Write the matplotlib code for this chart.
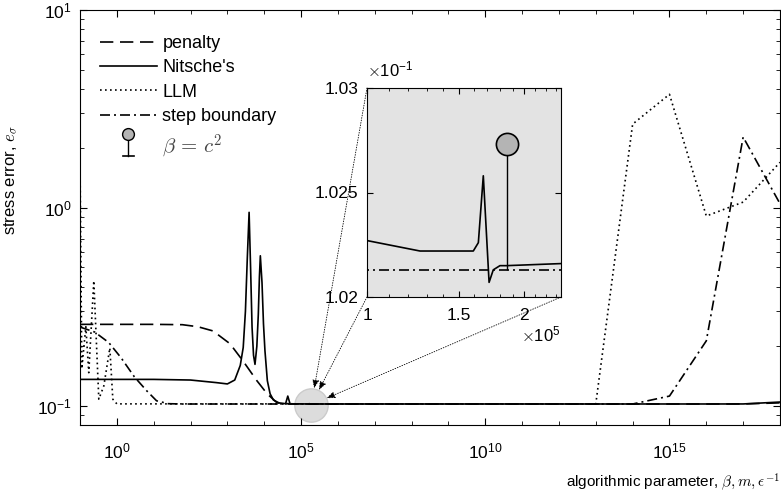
import matplotlib
matplotlib.use("Agg")
import matplotlib.pyplot as plt
from matplotlib.legend_handler import HandlerBase
from matplotlib.lines import Line2D
from matplotlib.ticker import FixedLocator, NullFormatter, FuncFormatter, LogLocator

plt.rcParams["font.family"] = ["Liberation Sans", "DejaVu Sans"]
plt.rcParams["mathtext.fontset"] = "cm"

# ====== DATA ======
pen_x = [0.1, 10, 60, 158, 407, 1175, 2630, 6310, 12020, 22390, 50120, 1e5, 1e16, 1e17, 1e18]
pen_y = [0.258, 0.258, 0.257, 0.251, 0.239, 0.206, 0.169, 0.134, 0.115, 0.1035, 0.1024, 0.10213,
         0.10213, 0.1022, 0.1035]

nit_x = [0.1, 10, 100, 501, 1000, 1585, 2239, 2692, 3090, 3467, 3890, 4266, 4677, 5129, 5623,
         6310, 6918, 7413, 7852, 8710, 9550, 10470, 12160, 14450, 17780, 25120, 38020, 43650,
         50120, 1e5, 1.263e5, 1.597e5, 1.633e5, 1.669e5, 1.712e5, 1.744e5, 1.796e5, 1.849e5,
         2.356e5, 1e10, 1e16, 1e17, 1e18]
nit_y = [0.136, 0.136, 0.135, 0.131, 0.129, 0.135, 0.16, 0.197, 0.3, 0.55, 0.95, 0.5, 0.25,
         0.18, 0.162, 0.2, 0.29, 0.45, 0.573, 0.42, 0.26, 0.19, 0.134, 0.115, 0.107, 0.1035,
         0.1025, 0.112, 0.1024, 0.10227, 0.10222, 0.10222, 0.10226, 0.10258, 0.10207, 0.10213,
         0.10215, 0.10215, 0.10216, 0.10216, 0.10216, 0.1022, 0.1045]

llm_x = [0.1, 0.112, 0.144, 0.173, 0.237, 0.324, 0.443, 0.645, 0.778, 1.0, 1e13, 1e14, 1e15,
         1e16, 1e17, 1e18]
llm_y = [1.73, 0.154, 0.251, 0.147, 0.428, 0.108, 0.126, 0.196, 0.108, 0.1023, 0.1023, 2.65,
         3.75, 0.91, 1.07, 1.7]

step_x = [0.1, 0.25, 0.6, 1.3, 3.0, 6.5, 12, 25, 60, 1e5, 1e13, 1e14, 1e15, 1e16, 1e17, 1e18]
step_y = [0.25, 0.236, 0.209, 0.175, 0.14, 0.119, 0.106, 0.1025, 0.10213, 0.10213, 0.10213,
          0.10213, 0.112, 0.213, 2.28, 1.05]

beta_c2 = [1.849e5]
beta_c2_err = [0.10273]
stem_bottom = 0.10213

zoom_x = [1.9e5]
zoom_y = [0.1012]

# line styles, MATLAB-like
sty_pen = dict(color="k", lw=1.2, dashes=(8, 4))
sty_nit = dict(color="k", lw=1.2, ls="-")
sty_llm = dict(color="k", lw=1.2, dashes=(1, 2))
sty_step = dict(color="k", lw=1.2, dashes=(6, 2.4, 1.2, 2.4))


class StemHandler(HandlerBase):
    def create_artists(self, legend, orig_handle, xdescent, ydescent, width, height, fontsize, trans):
        cx = width / 2 - xdescent
        cy = height / 2 - ydescent
        top, bot = cy + 9, cy - 7
        stem = Line2D([cx, cx], [bot, top], color="k", lw=1)
        base = Line2D([cx - 4, cx + 4], [bot, bot], color="k", lw=1.2)
        head = Line2D([cx], [top], marker="o", ms=8.5, mfc="#b4b4b4", mec="k", mew=1)
        for a in (stem, base, head):
            a.set_transform(trans)
        return [stem, base, head]


fig = plt.figure(figsize=(7.81, 5.0), dpi=100)
ax = fig.add_axes([80 / 781, 75 / 500, 700 / 781, 415 / 500])

l_pen, = ax.plot(pen_x, pen_y, label="penalty", **sty_pen)
l_nit, = ax.plot(nit_x, nit_y, label="Nitsche's", **sty_nit)
l_llm, = ax.plot(llm_x, llm_y, label="LLM", **sty_llm)
l_step, = ax.plot(step_x, step_y, label="step boundary", **sty_step)
ax.plot(zoom_x, zoom_y, "o", ms=24, mfc="#dcdcdc", mec="#cbcbcb", mew=1, zorder=1)

ax.set_xscale("log")
ax.set_yscale("log")
ax.set_xlim(1e-1, 1e18)
ax.set_ylim(0.08, 10)
ax.xaxis.set_major_locator(FixedLocator([1e0, 1e5, 1e10, 1e15]))
ax.xaxis.set_minor_locator(LogLocator(base=10, subs=(1.0,), numticks=40))
ax.xaxis.set_minor_formatter(NullFormatter())
ax.tick_params(which="both", direction="in", top=True, right=True, labelsize=12.5)
ax.tick_params(which="major", length=5, width=0.8)
ax.tick_params(which="minor", length=3, width=0.6)
ax.tick_params(axis="x", pad=12)
ax.tick_params(axis="y", pad=6)

ax.set_ylabel(r"stress error, $e_\sigma$", fontsize=12)
ax.yaxis.set_label_coords(-0.085, 0.59)
ax.set_xlabel(r"algorithmic parameter, $\beta, m, \epsilon^{-1}$", fontsize=11, loc="right")
ax.xaxis.set_label_coords(1.0, -0.112)

# ====== INSET ======
axins = fig.add_axes([367 / 781, 203 / 500, 194 / 781, 209 / 500])
axins.set_facecolor("#e3e3e3")
axins.plot(nit_x, nit_y, **sty_nit)
axins.plot(step_x, step_y, **sty_step)
mk, st, bl = axins.stem(beta_c2, beta_c2_err, bottom=stem_bottom, basefmt=" ")
plt.setp(st, color="k", lw=1)
plt.setp(mk, ms=16, mfc="#b4b4b4", mec="k", mew=1.2)
axins.set_xscale("log")
axins.set_xlim(1e5, 2.35e5)
axins.set_ylim(0.102, 0.103)
axins.xaxis.set_major_locator(FixedLocator([1e5, 1.5e5, 2e5]))
axins.xaxis.set_minor_locator(FixedLocator([1.1e5, 1.2e5, 1.3e5, 1.4e5, 1.6e5, 1.7e5, 1.8e5,
                                            1.9e5, 2.1e5, 2.2e5, 2.3e5]))
axins.xaxis.set_major_formatter(FuncFormatter(lambda v, p: f"{v / 1e5:g}"))
axins.xaxis.set_minor_formatter(NullFormatter())
axins.yaxis.set_major_locator(FixedLocator([0.102, 0.1025, 0.103]))
axins.yaxis.set_major_formatter(FuncFormatter(lambda v, p: f"{v * 10:g}"))
axins.tick_params(which="both", direction="in", top=True, right=True, labelsize=12.5)
axins.tick_params(which="major", length=4, width=0.8)
axins.tick_params(which="minor", length=2.5, width=0.6)
axins.tick_params(axis="x", pad=8)
axins.tick_params(axis="y", pad=6)
axins.text(0.0, 1.04, r"$\times\mathdefault{10^{-1}}$", transform=axins.transAxes,
           fontsize=12, ha="left", va="bottom")
axins.text(1.0, -0.13, r"$\times\mathdefault{10^{5}}$", transform=axins.transAxes,
           fontsize=12, ha="right", va="top")

# arrows from inset corners to the zoom marker
for corner in [(0, 1), (0, 0), (1, 0)]:
    ax.annotate("", xy=(zoom_x[0], zoom_y[0]), xycoords="data",
                xytext=corner, textcoords=axins.transAxes,
                arrowprops=dict(arrowstyle="-|>,head_length=0.5,head_width=0.2",
                                color="k", lw=0.6, ls=(0, (1, 2)),
                                shrinkA=0, shrinkB=12),
                annotation_clip=False, zorder=2)

stem_proxy = Line2D([], [])
leg = ax.legend([l_pen, l_nit, l_llm, l_step, stem_proxy],
                ["penalty", "Nitsche's", "LLM", "step boundary", r"$\beta\,=\,c^2$"],
                handler_map={stem_proxy: StemHandler()},
                loc="upper left", bbox_to_anchor=(0.0286, 0.94), frameon=False,
                borderaxespad=0, borderpad=0, fontsize=13, handlelength=3.15,
                handletextpad=0.3, labelspacing=0.41)
leg.get_texts()[-1].set_color("#444444")
leg.get_texts()[-1].set_fontsize(15)

plt.savefig("out.png", dpi=100)
plt.close()
